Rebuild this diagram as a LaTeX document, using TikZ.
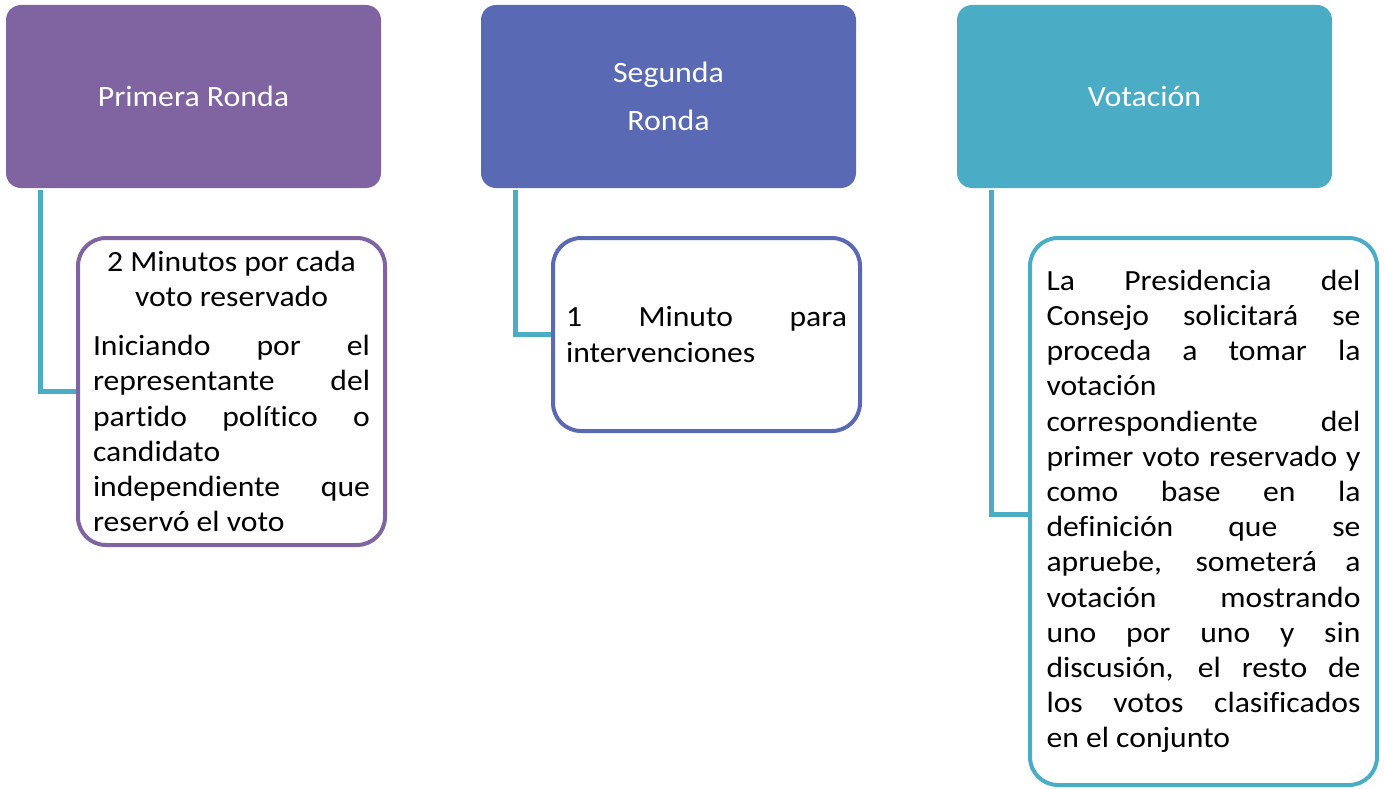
\documentclass[tikz,border=0pt]{standalone}
\usepackage{fontspec}
\setmainfont{Carlito}[FakeStretch=1.08, Ligatures=NoCommon]
\usepackage{tikz}

\definecolor{rondaA}{HTML}{8064A2}
\definecolor{rondaB}{HTML}{5A69B4}
\definecolor{rondaC}{HTML}{4BACC6}

\newcommand{\justo}{\parindent=0pt\relax\tolerance=10000\relax\hbadness=10000\relax\hyphenpenalty=10000\relax}

\begin{document}
\begin{tikzpicture}[x=1pt, y=-1pt]
  \tikzstyle{head} = [rounded corners=15pt, minimum width=375pt, minimum height=183pt, inner sep=0pt,
                      text=white, align=center, font=\fontsize{29.5}{48}\selectfont]
  \tikzstyle{detail} = [draw, line width=4pt, rounded corners=28pt, fill=white, inner sep=0pt, align=justify,
                        font=\fontsize{29.3}{35.2}\selectfont, execute at begin node=\justo]
  \tikzstyle{link} = [draw=rondaC, line width=5pt]

  \useasboundingbox (0,0) rectangle (1384,789);

  % encabezados
  \node[head, fill=rondaA] (ronda1) at (193.5,96.5) {Primera Ronda};
  \node[head, fill=rondaB] (ronda2) at (668.5,96.5) {Segunda\\Ronda};
  \node[head, fill=rondaC] (voto) at (1144.5,96.5) {Votación};

  % detalles
  \node[detail, draw=rondaA, minimum width=307pt, minimum height=307pt, text width=277pt] (min1) at (231.5,391.5)
    {{\centering 2 Minutos por cada\\ voto reservado\par}\vspace{14pt}
     Iniciando por el\linebreak representante del\linebreak partido político o\linebreak
     candidato\newline independiente que\linebreak reservó el voto};
  \node[detail, draw=rondaB, minimum width=307pt, minimum height=193pt, text width=281pt] (min2) at (706.5,334.5)
    {1 Minuto para\linebreak intervenciones};
  \node[detail, draw=rondaC, minimum width=347pt, minimum height=547pt, text width=314pt] (proc) at (1203.5,511.5)
    {La Presidencia del\linebreak Consejo solicitará se\linebreak proceda a tomar la\linebreak
     votación\newline correspondiente del\linebreak primer voto reservado y\linebreak
     como base en la\linebreak definición que se\linebreak apruebe, someterá a\linebreak
     votación mostrando\linebreak uno por uno y sin\linebreak discusión, el resto de\linebreak
     los votos clasificados\linebreak en el conjunto};

  % conectores
  \draw[link] ([xshift=35pt, yshift=-2pt]ronda1.south west) |- (min1.west);
  \draw[link] ([xshift=35pt, yshift=-2pt]ronda2.south west) |- (min2.west);
  \draw[link] ([xshift=35pt, yshift=-2pt]voto.south west) |- ([yshift=-3pt]proc.west);
\end{tikzpicture}
\end{document}
